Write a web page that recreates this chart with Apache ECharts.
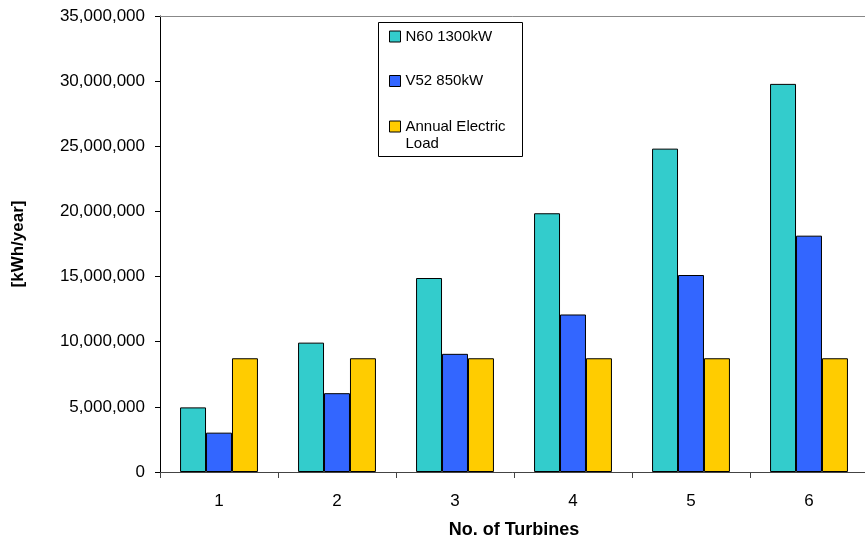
<!DOCTYPE html>
<html>
<head>
<meta charset="utf-8">
<script src="https://cdn.jsdelivr.net/npm/echarts@6/dist/echarts.min.js"></script>
<style>html,body{margin:0;padding:0;background:#fff}#c{width:865px;height:542px}</style>
</head>
<body>
<div id="c"></div>
<script>
const categories = ['1', '2', '3', '4', '5', '6'];
const seriesNames = ['N60 1300kW', 'V52 850kW', 'Annual Electric Load'];
const n60 = [4960000, 9930000, 14890000, 19860000, 24820000, 29790000];
const v52 = [3020000, 6050000, 9070000, 12090000, 15120000, 18140000];
const load = [8730000, 8730000, 8730000, 8730000, 8730000, 8730000];
const yTicks = { min: 0, max: 35000000, interval: 5000000 };
const colors = ['#33CCCC', '#3366FF', '#FFCC00'];

const font = 'Liberation Sans, Arial, sans-serif';
const chart = echarts.init(document.getElementById('c'));

function bar(name, data, color) {
  return {
    name: name, type: 'bar', data: data, barGap: '0%', barCategoryGap: '34%',
    itemStyle: { color: color, borderColor: '#000', borderWidth: 1 },
    emphasis: { disabled: true }
  };
}
function leg(name, top, formatter) {
  return {
    data: [name], left: 389, top: top, padding: 0, orient: 'vertical',
    itemWidth: 11, itemHeight: 11, icon: 'rect', selectedMode: false,
    itemStyle: { borderColor: '#000', borderWidth: 1 },
    textStyle: { fontFamily: font, fontSize: 15, lineHeight: 17, color: '#000' },
    formatter: formatter
  };
}

chart.setOption({
  animation: false,
  backgroundColor: '#fff',
  color: colors,
  grid: { left: 160, top: 16, width: 708, height: 456, outerBoundsMode: 'none', containLabel: false },
  legend: [
    leg(seriesNames[0], 28),
    leg(seriesNames[1], 72.5),
    leg(seriesNames[2], 101, function (n) { return '\nAnnual Electric\nLoad'; })
  ],
  graphic: [{
    type: 'rect', shape: { x: 378.5, y: 22.5, width: 144, height: 134 },
    style: { fill: 'none', stroke: '#000', lineWidth: 1 }, z: 10, silent: true
  }],
  xAxis: [{
    type: 'category', data: categories,
    name: 'No. of Turbines', nameLocation: 'middle', nameGap: 49,
    nameTextStyle: { fontFamily: font, fontSize: 18, fontWeight: 'bold', color: '#000' },
    axisLine: { lineStyle: { color: '#444', width: 1 } },
    axisTick: { show: true, length: 6, lineStyle: { color: '#444' } },
    axisLabel: { fontFamily: font, fontSize: 17, color: '#000', margin: 21 },
    splitLine: { show: false }
  }, {
    type: 'category', data: categories, position: 'top',
    axisLine: { show: true, lineStyle: { color: '#888', width: 1 } },
    axisTick: { show: false }, axisLabel: { show: false }, splitLine: { show: false }
  }],
  yAxis: {
    type: 'value', min: yTicks.min, max: yTicks.max, interval: yTicks.interval,
    name: '[kWh/year]', nameLocation: 'middle', nameGap: 133, nameRotate: 90,
    nameTextStyle: { fontFamily: font, fontSize: 17, fontWeight: 'bold', color: '#000' },
    axisLine: { show: true, lineStyle: { color: '#000', width: 1 } },
    axisTick: { show: true, length: 5, lineStyle: { color: '#000' } },
    axisLabel: { fontFamily: font, fontSize: 17, color: '#000', margin: 15,
      formatter: function (v) { return v.toLocaleString('en-US'); } },
    splitLine: { show: false }
  },
  series: [
    bar(seriesNames[0], n60, colors[0]),
    bar(seriesNames[1], v52, colors[1]),
    bar(seriesNames[2], load, colors[2])
  ]
});
</script>
</body>
</html>
